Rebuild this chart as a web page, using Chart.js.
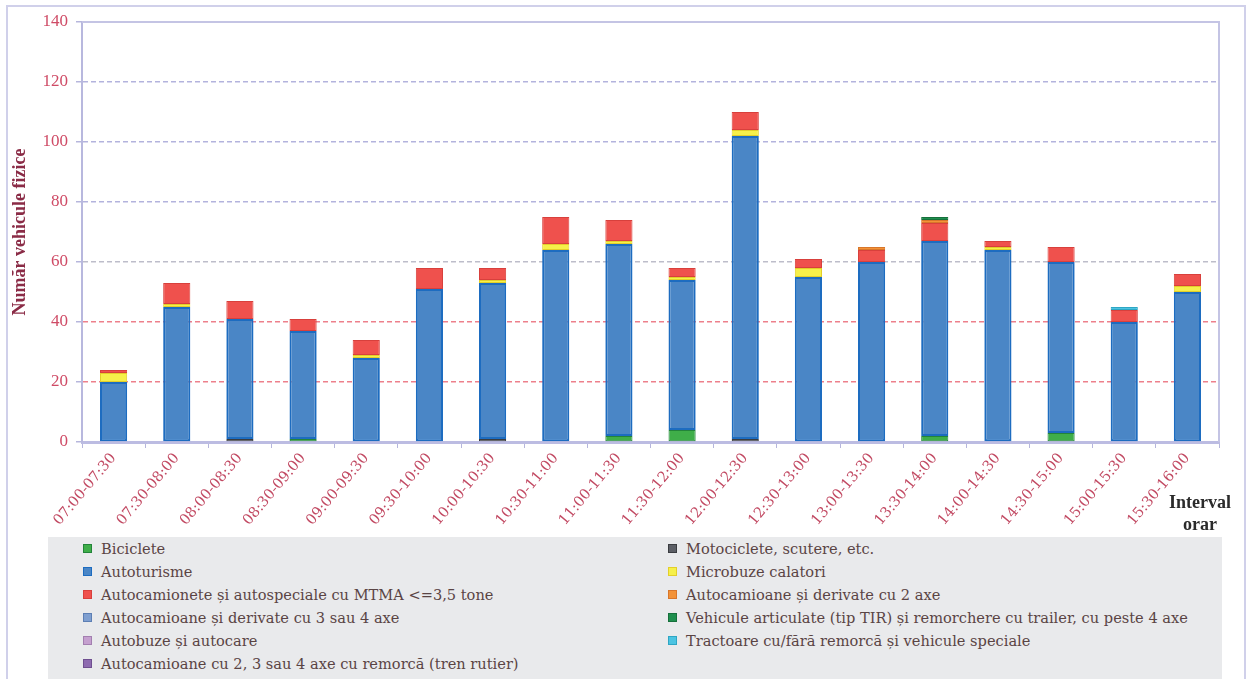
<!DOCTYPE html>
<html>
<head>
<meta charset="utf-8">
<script src="https://cdn.jsdelivr.net/npm/chart.js@4.4.1/dist/chart.umd.min.js"></script>
<style>
  body { margin: 0; background: #fff; width: 1250px; height: 679px; overflow: hidden; position: relative; font-family: "Liberation Serif", serif; }
  #frame { position: absolute; left: 6px; top: 5px; width: 1240px; height: 700px; border: 2px solid #d0d0ea; box-sizing: border-box; }
  #wrap { position: absolute; left: 0; top: 0; width: 1250px; height: 537px; }
  #axisName { position: absolute; left: 1158px; top: 491px; width: 84px; text-align: center; font-weight: bold; font-size: 18px; line-height: 22px; color: #2b2b2b; }
  #legend { position: absolute; left: 48px; top: 537px; width: 1174px; height: 142px; background: #e9eaec; box-sizing: border-box; padding-left: 35px; display: grid; grid-template-columns: 585px 1fr; grid-auto-rows: 23px; }
  .item { display: flex; align-items: center; font-family: "DejaVu Serif", serif; font-size: 14.6px; color: #5a4444; white-space: nowrap; }
  .box { width: 7px; height: 7px; margin-right: 9px; border: 1px solid; flex: none; }
</style>
</head>
<body>
<div id="frame"></div>
<div id="wrap"><canvas id="trafficChart"></canvas></div>
<div id="axisName">Interval<br>orar</div>
<div id="legend"></div>
<script>
// intervale orare
var intervals = ["07:00-07:30", "07:30-08:00", "08:00-08:30", "08:30-09:00", "09:00-09:30", "09:30-10:00",
  "10:00-10:30", "10:30-11:00", "11:00-11:30", "11:30-12:00", "12:00-12:30", "12:30-13:00",
  "13:00-13:30", "13:30-14:00", "14:00-14:30", "14:30-15:00", "15:00-15:30", "15:30-16:00"];

// numar vehicule pe categorii
var biciclete     = [0, 0, 0, 1, 0, 0, 0, 0, 2, 4, 0, 0, 0, 2, 0, 3, 0, 0];
var motociclete   = [0, 0, 1, 0, 0, 0, 1, 0, 0, 0, 1, 0, 0, 0, 0, 0, 0, 0];
var autoturisme   = [20, 45, 40, 36, 28, 51, 52, 64, 64, 50, 101, 55, 60, 65, 64, 57, 40, 50];
var microbuze     = [3, 1, 0, 0, 1, 0, 1, 2, 1, 1, 2, 3, 0, 0, 1, 0, 0, 2];
var autocamionete = [1, 7, 6, 4, 5, 7, 4, 9, 7, 3, 6, 3, 4, 6, 2, 5, 4, 4];
var camioane2     = [0, 0, 0, 0, 0, 0, 0, 0, 0, 0, 0, 0, 1, 1, 0, 0, 0, 0];
var camioane34    = [0, 0, 0, 0, 0, 0, 0, 0, 0, 0, 0, 0, 0, 0, 0, 0, 0, 0];
var articulate    = [0, 0, 0, 0, 0, 0, 0, 0, 0, 0, 0, 0, 0, 1, 0, 0, 0, 0];
var autobuze      = [0, 0, 0, 0, 0, 0, 0, 0, 0, 0, 0, 0, 0, 0, 0, 0, 0, 0];
var tractoare     = [0, 0, 0, 0, 0, 0, 0, 0, 0, 0, 0, 0, 0, 0, 0, 0, 1, 0];
var trenRutier    = [0, 0, 0, 0, 0, 0, 0, 0, 0, 0, 0, 0, 0, 0, 0, 0, 0, 0];

var yTicks = [0, 20, 40, 60, 80, 100, 120, 140];

var series = [
  { label: "Biciclete", data: biciclete, color: "#3fae49", border: "#23843a" },
  { label: "Motociclete, scutere, etc.", data: motociclete, color: "#5c5f66", border: "#3a3c40" },
  { label: "Autoturisme", data: autoturisme, color: "#4a86c6", border: "#1d6cc0" },
  { label: "Microbuze calatori", data: microbuze, color: "#f6f04a", border: "#e3cf2a" },
  { label: "Autocamionete și autospeciale cu MTMA <=3,5 tone", data: autocamionete, color: "#ef514d", border: "#d8403c" },
  { label: "Autocamioane și derivate cu 2 axe", data: camioane2, color: "#f39237", border: "#d8762a" },
  { label: "Autocamioane și derivate cu 3 sau 4 axe", data: camioane34, color: "#7f9fd0", border: "#5d7fb4" },
  { label: "Vehicule articulate (tip TIR) și remorchere cu trailer, cu peste 4 axe", data: articulate, color: "#1f8f4e", border: "#16703c" },
  { label: "Autobuze și autocare", data: autobuze, color: "#c5a0cf", border: "#a37fb0" },
  { label: "Tractoare cu/fără remorcă și vehicule speciale", data: tractoare, color: "#4cc4e2", border: "#2ea6c4" },
  { label: "Autocamioane  cu 2, 3 sau 4 axe cu remorcă (tren rutier)", data: trenRutier, color: "#8e6bb0", border: "#6f4f90" }
];

var datasets = series.map(function (s) {
  return {
    label: s.label,
    data: s.data,
    backgroundColor: s.color,
    borderColor: s.border,
    borderWidth: function (c) { return c.raw ? (s.label === "Autoturisme" ? 2 : 1) : 0; },
    borderSkipped: false,
    barPercentage: 0.43,
    categoryPercentage: 1
  };
});

// chenarul zonei de grafic (sus si dreapta)
var plotFrame = {
  id: "plotFrame",
  beforeDatasetsDraw: function (chart) {
    var a = chart.chartArea, c = chart.ctx;
    c.save();
    c.strokeStyle = "#c4c4e4";
    c.lineWidth = 2;
    c.beginPath();
    c.moveTo(a.left, a.top);
    c.lineTo(a.right, a.top);
    c.lineTo(a.right, a.bottom);
    c.stroke();
    c.restore();
  }
};

var ctx = document.getElementById("trafficChart").getContext("2d");
var myChart = new Chart(ctx, {
  type: "bar",
  data: { labels: intervals, datasets: datasets },
  plugins: [plotFrame],
  options: {
    responsive: true,
    maintainAspectRatio: false,
    animation: false,
    layout: { padding: { top: 22, right: 31, left: 0, bottom: 0 } },
    scales: {
      x: {
        stacked: true,
        afterFit: function (s) { s.height = 95; },
        grid: { offset: true, drawOnChartArea: false, tickLength: 6, tickColor: "#b6b6dc", lineWidth: 1 },
        border: { color: "#bcbce2", width: 3 },
        ticks: {
          autoSkip: false, maxRotation: 50, minRotation: 50, padding: 2,
          color: "#c24a63",
          font: { family: "DejaVu Serif", size: 14.5 }
        }
      },
      y: {
        stacked: true,
        min: 0,
        max: 140,
        afterFit: function (s) { s.width = 82; },
        afterBuildTicks: function (s) { s.ticks = yTicks.map(function (v) { return { value: v }; }); },
        grid: {
          color: function (c) {
            var v = c.tick.value;
            if (v === 20 || v === 40) return "rgba(232, 96, 110, 0.8)";
            if (v === 60) return "#bdbdca";
            return "#b3b3dd";
          },
          lineWidth: 1.5,
          tickLength: 6,
          tickColor: "#b6b6dc",
          tickBorderDash: [0, 0]
        },
        border: { color: "#b8b8de", width: 2, dash: [5, 3] },
        ticks: {
          padding: 8,
          color: "#cf4b66",
          font: { family: "Liberation Serif", size: 17 }
        },
        title: {
          display: true,
          text: "Număr vehicule fizice",
          color: "#8a2b46",
          font: { family: "Liberation Serif", size: 18, weight: "bold" },
          padding: { top: 10, bottom: 0 }
        }
      }
    },
    plugins: {
      legend: { display: false },
      tooltip: { enabled: false }
    }
  }
});

// legenda in doua coloane
var legend = document.getElementById("legend");
series.forEach(function (s) {
  var item = document.createElement("div");
  item.className = "item";
  var box = document.createElement("span");
  box.className = "box";
  box.style.background = s.color;
  box.style.borderColor = s.border;
  item.appendChild(box);
  item.appendChild(document.createTextNode(s.label));
  legend.appendChild(item);
});
</script>
</body>
</html>
